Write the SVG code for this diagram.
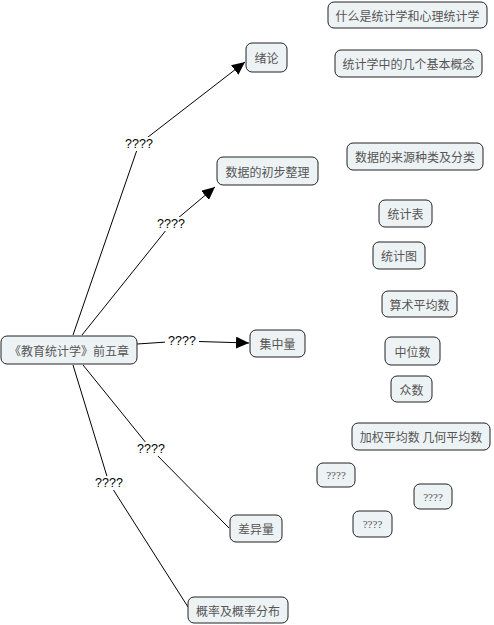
<svg xmlns="http://www.w3.org/2000/svg" width="494" height="625" viewBox="0 0 494 625">
<style>
.n rect{fill:#edf2f4;stroke:#222;stroke-width:1}
.n text{font-family:"Noto Sans CJK SC","Noto Sans",sans-serif;font-size:12px;fill:#555;text-anchor:middle;dominant-baseline:central}
.n text.q{font-family:"Liberation Serif","DejaVu Serif",serif;font-size:11px}
.c polyline{fill:none;stroke:#000;stroke-width:1}
.lb rect{fill:#fff}
.lb text{font-family:"Liberation Sans","DejaVu Sans",sans-serif;font-size:12.5px;fill:#000;text-anchor:middle;dominant-baseline:central}
</style>
<defs>
<marker id="arr" markerUnits="userSpaceOnUse" markerWidth="14" markerHeight="12" refX="13" refY="6" orient="auto">
<path d="M0,0 L13,6 L0,12 Z" fill="#000"/>
</marker>
</defs>
<rect width="494" height="625" fill="#fff"/>
<g id="connectors" class="c">
<polyline points="73,335 139,144 245,62" marker-end="url(#arr)"/>
<polyline points="82,335 171,224 215,187" marker-end="url(#arr)"/>
<polyline points="137,344 182,341 249,343" marker-end="url(#arr)"/>
<polyline points="83,365 151,449 229,528"/>
<polyline points="73,365 109,483 188,607"/>
<g class="lb">
<rect x="124" y="137" width="30" height="14"/><text x="139" y="144">????</text>
<rect x="156" y="217" width="30" height="14"/><text x="171" y="224">????</text>
<rect x="165" y="334" width="34" height="14"/><text x="182" y="341">????</text>
<rect x="136" y="442" width="30" height="14"/><text x="151" y="449">????</text>
<rect x="94" y="476" width="30" height="14"/><text x="109" y="483">????</text>
</g>
</g>
<g id="root" class="n"><rect x="1" y="336" width="136" height="28" rx="6"/><text x="69" y="350">《教育统计学》前五章</text></g>
<g id="n-xulun" class="n"><rect x="246" y="43" width="41" height="29" rx="6"/><text x="266.5" y="57.5">绪论</text></g>
<g id="n-what" class="n"><rect x="328" y="2" width="159" height="26" rx="6"/><text x="407.5" y="15">什么是统计学和心理统计学</text></g>
<g id="n-concepts" class="n"><rect x="335" y="50" width="147" height="27" rx="6"/><text x="408.5" y="63.5">统计学中的几个基本概念</text></g>
<g id="n-data" class="n"><rect x="217" y="157" width="101" height="28" rx="6"/><text x="267.5" y="171">数据的初步整理</text></g>
<g id="n-source" class="n"><rect x="347" y="143" width="136" height="27" rx="6"/><text x="415" y="156.5">数据的来源种类及分类</text></g>
<g id="n-table" class="n"><rect x="379" y="200" width="53" height="27" rx="6"/><text x="405.5" y="213.5">统计表</text></g>
<g id="n-chart" class="n"><rect x="373" y="242" width="52" height="27" rx="6"/><text x="399" y="255.5">统计图</text></g>
<g id="n-mean" class="n"><rect x="382" y="291" width="75" height="26" rx="6"/><text x="419.5" y="304">算术平均数</text></g>
<g id="n-central" class="n"><rect x="250" y="330" width="55" height="27" rx="6"/><text x="277.5" y="343.5">集中量</text></g>
<g id="n-median" class="n"><rect x="385" y="337" width="55" height="28" rx="6"/><text x="412.5" y="351">中位数</text></g>
<g id="n-mode" class="n"><rect x="391" y="376" width="41" height="26" rx="6"/><text x="411.5" y="389">众数</text></g>
<g id="n-weighted" class="n"><rect x="352" y="423" width="138" height="27" rx="6"/><text x="421" y="436.5">加权平均数 几何平均数</text></g>
<g id="n-q1" class="n"><rect x="317" y="463" width="38" height="24" rx="6"/><text class="q" x="336" y="475">????</text></g>
<g id="n-q2" class="n"><rect x="414" y="484" width="38" height="25" rx="6"/><text class="q" x="433" y="496.5">????</text></g>
<g id="n-q3" class="n"><rect x="353" y="511" width="39" height="26" rx="6"/><text class="q" x="372.5" y="524">????</text></g>
<g id="n-variation" class="n"><rect x="230" y="515" width="52" height="27" rx="6"/><text x="256" y="528.5">差异量</text></g>
<g id="n-prob" class="n"><rect x="188" y="597" width="100" height="26" rx="6"/><text x="238" y="610">概率及概率分布</text></g>
</svg>
